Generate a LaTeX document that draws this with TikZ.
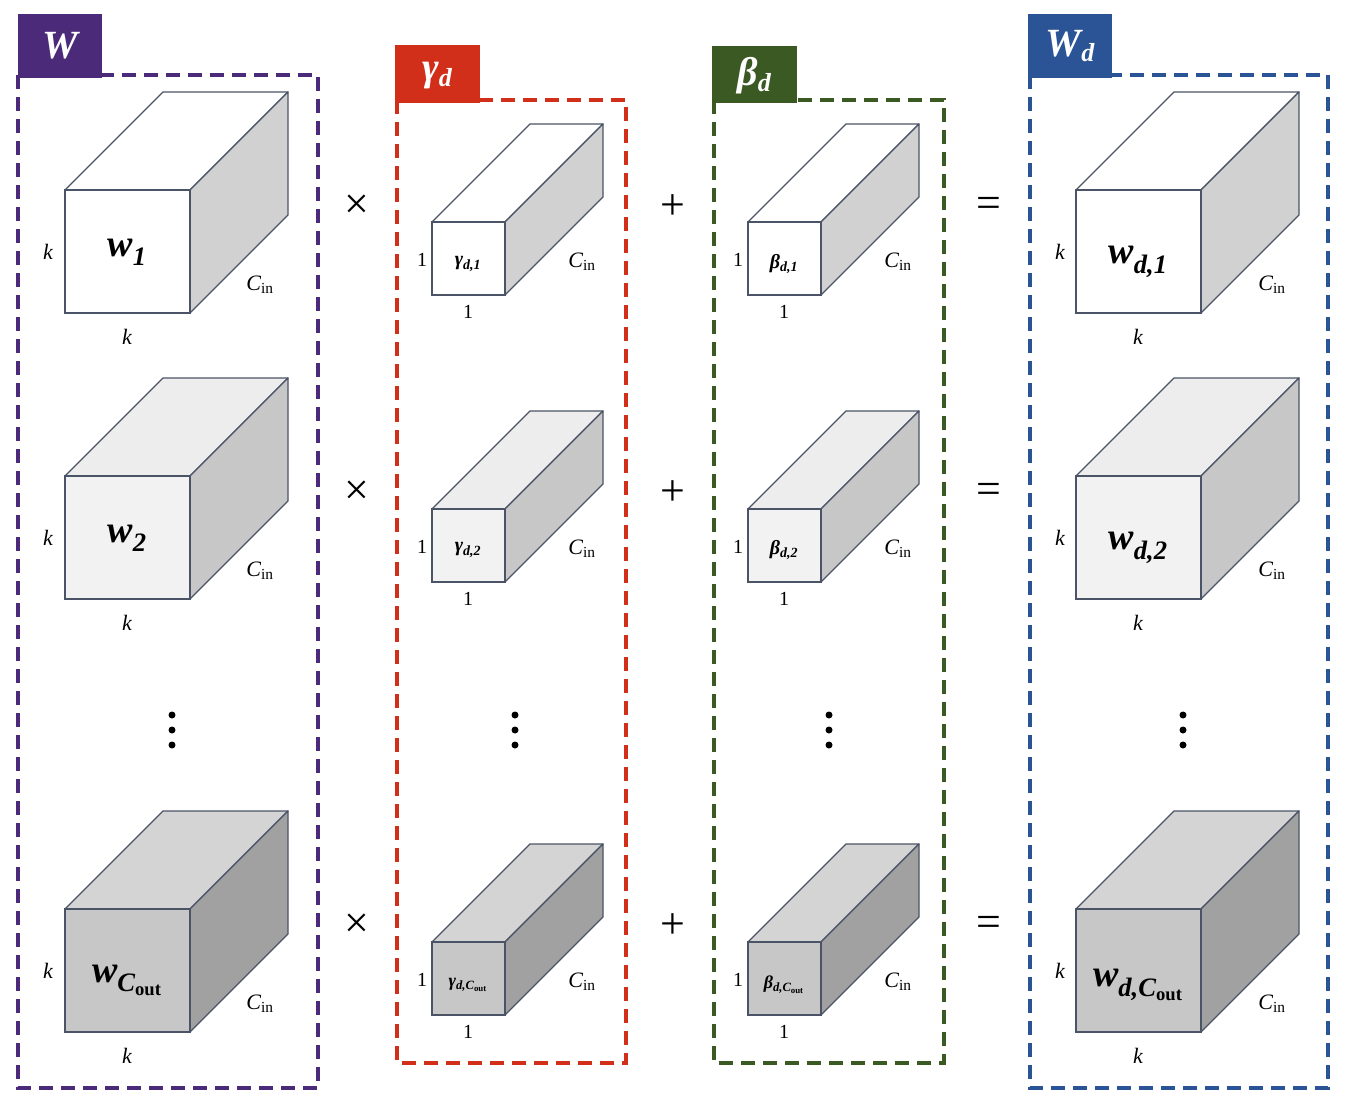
\documentclass[tikz,border=0pt]{standalone}
\usepackage{fontspec}
\setmainfont{Liberation Serif}
\definecolor{cpur}{HTML}{4B2A7A}
\definecolor{cred}{HTML}{D22F1A}
\definecolor{cgrn}{HTML}{3B5A23}
\definecolor{cblu}{HTML}{2A5496}
\definecolor{edge}{HTML}{4A5466}
\newcommand\mycube[8]{% x y w h d front top side
  \filldraw[fill=#7,draw=edge,line width=1.3pt,line join=round] (#1,#2)--(#1+#5,#2-#5)--(#1+#3+#5,#2-#5)--(#1+#3,#2)--cycle;
  \filldraw[fill=#8,draw=edge,line width=1.3pt,line join=round] (#1+#3,#2)--(#1+#3+#5,#2-#5)--(#1+#3+#5,#2+#4-#5)--(#1+#3,#2+#4)--cycle;
  \filldraw[fill=#6,draw=edge,line width=1.3pt] (#1,#2) rectangle (#1+#3,#2+#4);}
\begin{document}
\begin{tikzpicture}[x=1pt,y=-1pt,
  box/.style={line width=3.5pt,dash pattern=on 14pt off 8pt},
  tab/.style={inner sep=0pt,text=white,font=\fontsize{40}{40}\selectfont\bfseries\itshape},
  lab/.style={font=\fontsize{22}{22}\selectfont\itshape},
  one/.style={font=\fontsize{20}{20}\selectfont},
  big/.style={font=\fontsize{38}{38}\selectfont\bfseries\itshape},
  sm/.style={font=\fontsize{20}{20}\selectfont\bfseries\itshape},
  op/.style={font=\fontsize{44}{44}\selectfont}]
\useasboundingbox (0,0) rectangle (1345,1111);
% frames
\draw[box,cpur] (18,75) rectangle (318,1088);
\draw[box,cred] (397,100) rectangle (626,1063);
\draw[box,cgrn] (714,100) rectangle (944,1063);
\draw[box,cblu] (1030,75) rectangle (1328,1088);
\fill[cpur] (18,14) rectangle (102,78); \node[tab] (tW) at (60,46) {W};
\fill[cred] (395,45) rectangle (480,103); \node[tab] (tg) at (437,76) {γ\raisebox{-0.3ex}{\fontsize{26}{26}\selectfont d}};
\fill[cgrn] (712,46) rectangle (797,103); \node[tab] (tb) at (754,76) {β\raisebox{-0.3ex}{\fontsize{26}{26}\selectfont d}};
\fill[cblu] (1028,14) rectangle (1112,78); \node[tab] (tWd) at (1070,46) {W\raisebox{-0.3ex}{\fontsize{26}{26}\selectfont d}};
% rows
\foreach \yb/\ys/\fr/\tp/\sd [count=\r] in {190/222/white/white/black!18, 476/509/black!5/black!7/black!22, 909/942/black!22/black!17/black!37}{
  \mycube{65}{\yb}{125}{123}{98}{\fr}{\tp}{\sd}
  \mycube{1076}{\yb}{125}{123}{98}{\fr}{\tp}{\sd}
  \mycube{432}{\ys}{73}{73}{98}{\fr}{\tp}{\sd}
  \mycube{748}{\ys}{73}{73}{98}{\fr}{\tp}{\sd}
  \node[lab] at (48,\yb+62) {k};
  \node[lab] at (127,\yb+147) {k};
  \node[lab] at (260,\yb+95) {C\textsubscript{\upshape in}};
  \node[lab] at (1060,\yb+62) {k};
  \node[lab] at (1138,\yb+147) {k};
  \node[lab] at (1272,\yb+95) {C\textsubscript{\upshape in}};
  \node[one] at (422,\ys+38) {1};
  \node[one] at (468,\ys+90) {1};
  \node[lab] at (582,\ys+40) {C\textsubscript{\upshape in}};
  \node[one] at (738,\ys+38) {1};
  \node[one] at (784,\ys+90) {1};
  \node[lab] at (898,\ys+40) {C\textsubscript{\upshape in}};
  \node[op] at (357,\yb+17) {×};
  \node[op] at (673,\yb+17) {+};
  \node[op] at (989,\yb+17) {=};
}
\node[big] at (127,252) {w\textsubscript{1}};
\node[big] at (127,538) {w\textsubscript{2}};
\node[big] at (127,980) {w\textsubscript{C\textsubscript{\upshape out}}};
\node[big] at (1138,262) {w\textsubscript{d,1}};
\node[big] at (1138,548) {w\textsubscript{d,2}};
\node[big] at (1138,985) {w\textsubscript{d,C\textsubscript{\upshape out}}};
\node[sm] at (468,264) {γ\textsubscript{d,1}};
\node[sm] at (468,550) {γ\textsubscript{d,2}};
\node[sm] at (468,985) {\fontsize{18}{18}\selectfont γ\textsubscript{d,C\textsubscript{\upshape out}}};
\node[sm] at (784,264) {β\textsubscript{d,1}};
\node[sm] at (784,550) {β\textsubscript{d,2}};
\node[sm] at (784,985) {\fontsize{18}{18}\selectfont β\textsubscript{d,C\textsubscript{\upshape out}}};
\foreach \x in {172,515,829,1183}{\foreach \dy in {-15,0,15}{\fill (\x,730+\dy) circle (3.5pt);}}
\end{tikzpicture}
\end{document}
